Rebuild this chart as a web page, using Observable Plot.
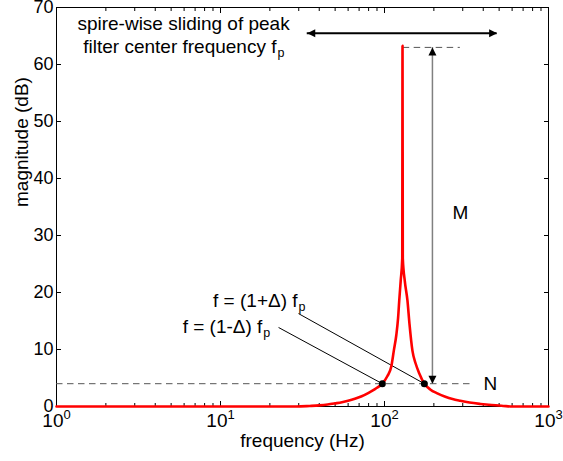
<!DOCTYPE html>
<html><head><meta charset="utf-8">
<script src="https://cdn.jsdelivr.net/npm/d3@7"></script>
<script src="https://cdn.jsdelivr.net/npm/@observablehq/plot@0.6"></script>
<style>body{margin:0;background:#fff}</style>
</head><body><div id="chart"></div>
<script>
// Red peak-filter magnitude response
const freq = [1, 29, 35, 40, 45, 50, 55, 60, 66, 72, 80, 88, 97, 104, 110, 114, 118, 121, 123, 125.5, 128.3, 128.8, 129.3, 133, 138, 142, 148, 155, 163, 175, 190, 210, 235, 260, 290, 330, 385, 450, 530, 600, 1000];
const magnitude = [0, 0, 0.1, 0.2, 0.35, 0.55, 0.75, 1.0, 1.35, 1.75, 2.4, 3.1, 4.0, 5.3, 7.0, 9.8, 12.5, 15.5, 18.6, 22, 26, 63.3, 26, 22, 18.6, 14.5, 9.8, 7.5, 5.8, 4.0, 3.0, 2.3, 1.7, 1.3, 1.0, 0.7, 0.45, 0.25, 0.1, 0, 0];

// Axes
const decades = [1, 10, 100, 1000];
const decadeExponents = ["0", "1", "2", "3"];
const minorTicks = [2,3,4,5,6,7,8,9,20,30,40,50,60,70,80,90,200,300,400,500,600,700,800,900];
const yTicks = [0, 10, 20, 30, 40, 50, 60, 70];

// Annotations (data units: Hz, dB)
const levelN = 4;          // N level
const levelPeak = 63;      // peak level
const bandFreqs = [97, 175];
const dashedX1 = [1, 130];
const dashedX2 = [335, 290];
const dashedY = [levelN, levelPeak];
const mArrowFreq = 196;
const slideArrow = {x1: 33.8, x2: 486, y: 65.5};
const leaderStart = [{f: 29.9, m: 16.3}, {f: 22.6, m: 13.86}];
const leaderEnd = [{f: 175, m: 4}, {f: 97, m: 4}];
const titleLines = ["spire-wise sliding of peak", "filter center frequency f"];
const annotTexts = ["f = (1+\u0394) f", "f = (1-\u0394) f"];
const annotPos = [{f: 29.5, m: 18.49}, {f: 18.0, m: 13.88}];

const curve = freq.map((f, i) => ({f, m: magnitude[i]}));
const dashed = dashedY.map((y, i) => ({x1: dashedX1[i], x2: dashedX2[i], y}));
const heads = [
  {f: mArrowFreq, m: levelPeak, rot: 0},
  {f: mArrowFreq, m: levelN, rot: 180},
  {f: slideArrow.x1, m: slideArrow.y, rot: 270},
  {f: slideArrow.x2, m: slideArrow.y, rot: 90}
];
const leaders = leaderStart.map((s, i) => ({x1: s.f, y1: s.m, x2: leaderEnd[i].f, y2: leaderEnd[i].m}));

const font = "Liberation Sans, Arial, Helvetica, sans-serif";
const chart = Plot.plot({
  width: 563,
  height: 461,
  marginLeft: 56,
  marginRight: 15,
  marginTop: 7,
  marginBottom: 55,
  style: {fontFamily: font, fontSize: "18px", background: "#fff", color: "black"},
  x: {type: "log", domain: [1, 1000]},
  y: {domain: [0, 70]},
  marks: [
    // inward ticks
    Plot.axisX({anchor: "bottom", ticks: decades, tickSize: 5, dy: -5, tickFormat: () => "", label: null}),
    Plot.axisX({anchor: "bottom", ticks: minorTicks, tickSize: 3, dy: -3, tickFormat: () => "", label: null}),
    Plot.axisX({anchor: "top", ticks: decades, tickSize: 5, dy: 5, tickFormat: () => "", label: null}),
    Plot.axisX({anchor: "top", ticks: minorTicks, tickSize: 3, dy: 3, tickFormat: () => "", label: null}),
    Plot.axisY({anchor: "left", ticks: yTicks, tickSize: 5, dx: 5, tickFormat: () => "", label: null}),
    Plot.axisY({anchor: "right", ticks: yTicks, tickSize: 5, dx: -5, tickFormat: () => "", label: null}),
    Plot.axisY({anchor: "left", ticks: yTicks, tickSize: 0, tickPadding: 3, fontSize: 18, label: null}),
    // x tick labels 10^n
    Plot.text(decades, {x: d => d, frameAnchor: "bottom", text: () => "10", textAnchor: "end", dx: 7, dy: 20, fontSize: 19}),
    Plot.text(decades, {x: d => d, frameAnchor: "bottom", text: (d, i) => decadeExponents[i], textAnchor: "start", dx: 7, dy: 12.8, fontSize: 13}),
    Plot.text(["frequency (Hz)"], {frameAnchor: "bottom", text: d => d, dy: 40, fontSize: 19}),
    Plot.text(["magnitude (dB)"], {frameAnchor: "left", text: d => d, rotate: -90, dx: -35, fontSize: 19}),
    Plot.frame({stroke: "black"}),
    // dashed level lines
    Plot.ruleY(dashed, {y: "y", x1: "x1", x2: "x2", stroke: "#555", strokeWidth: 1, strokeDasharray: "6.5,4.5"}),
    // M arrow
    Plot.ruleX([{f: mArrowFreq, y1: levelN, y2: levelPeak}], {x: "f", y1: "y1", y2: "y2", stroke: "#808080", strokeWidth: 1.5}),
    // sliding arrow
    Plot.ruleY([slideArrow], {y: "y", x1: "x1", x2: "x2", stroke: "black", strokeWidth: 2}),
    Plot.vector(heads, {x: "f", y: "m", rotate: "rot", length: 8, r: 4, shape: "spike", anchor: "end", fill: "black", stroke: "none"}),
    // leader lines
    Plot.link(leaders, {x1: "x1", y1: "y1", x2: "x2", y2: "y2", stroke: "black", strokeWidth: 1}),
    // curve
    Plot.line(curve, {x: "f", y: "m", stroke: "red", strokeWidth: 2.6, curve: "monotone-x"}),
    Plot.dot(bandFreqs, {x: d => d, y: () => levelN, r: 3.5, fill: "black", stroke: "none"}),
    // texts
    Plot.text([titleLines[0]], {x: () => 5.95, y: () => 67.12, text: d => d, textAnchor: "middle", fontSize: 19}),
    Plot.text([titleLines[1]], {x: () => 21.95, y: () => 63.0, text: d => d, textAnchor: "end", fontSize: 19}),
    Plot.text(["p"], {x: () => 21.95, y: () => 63.0, text: d => d, textAnchor: "start", dx: 1, dy: 6, fontSize: 12.5}),
    Plot.text(annotTexts, {x: (d, i) => annotPos[i].f, y: (d, i) => annotPos[i].m, text: d => d, textAnchor: "end", fontSize: 19}),
    Plot.text(annotTexts, {x: (d, i) => annotPos[i].f, y: (d, i) => annotPos[i].m, text: () => "p", textAnchor: "start", dx: 1, dy: 5.4, fontSize: 12.5}),
    Plot.text(["M"], {x: () => 260, y: () => 34, text: d => d, textAnchor: "start", fontSize: 19}),
    Plot.text(["N"], {x: () => 401, y: () => 4, text: d => d, textAnchor: "start", fontSize: 19})
  ]
});
document.getElementById("chart").append(chart);
</script>
</body></html>
